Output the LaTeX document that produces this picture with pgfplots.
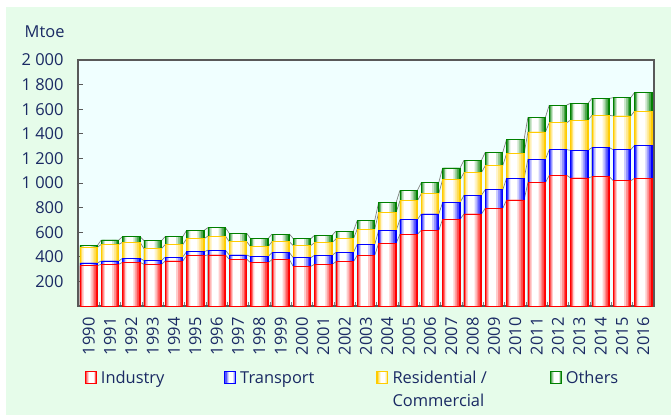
\documentclass[border=0pt]{standalone}
\usepackage{fontspec}
\setmainfont{Open Sans}
\usepackage{pgfplots}
\usepackage{pgfplotstable}
\pgfplotsset{compat=1.18}
\definecolor{bgG}{RGB}{230,252,234}
\definecolor{plotbg}{RGB}{240,255,255}
\definecolor{navy}{RGB}{26,42,100}
\definecolor{cR}{RGB}{255,0,0}
\definecolor{cB}{RGB}{0,0,255}
\definecolor{cY}{RGB}{255,204,0}
\definecolor{cG}{RGB}{0,128,0}

\pgfplotstableread{
year ind tra res oth
1990 328 22 127 15
1991 339 27 135 36
1992 355 33 130 46
1993 339 30 97 65
1994 366 32 101 65
1995 409 33 105 68
1996 415 38 116 68
1997 380 35 108 68
1998 352 49 81 65
1999 377 57 89 62
2000 322 71 98 56
2001 339 73 103 60
2002 360 75 111 62
2003 412 89 125 70
2004 509 103 147 81
2005 583 119 154 84
2006 615 133 165 90
2007 705 135 187 95
2008 748 152 184 100
2009 794 152 195 108
2010 862 176 200 117
2011 1003 190 222 119
2012 1062 209 219 144
2013 1041 225 246 136
2014 1051 236 263 138
2015 1019 252 274 149
2016 1038 268 279 152
}\data
\pgfplotstablecreatecol[create col/expr={\thisrow{ind}}]{c1}\data
\pgfplotstablecreatecol[create col/expr={\thisrow{c1}+\thisrow{tra}}]{c2}\data
\pgfplotstablecreatecol[create col/expr={\thisrow{c2}+\thisrow{res}}]{c3}\data
\pgfplotstablecreatecol[create col/expr={\thisrow{c3}+\thisrow{oth}}]{c4}\data
\pgfplotstablecreatecol[create col/expr={\nextrow{c1}-\thisrow{c1}}]{d1}\data
\pgfplotstablecreatecol[create col/expr={\nextrow{c2}-\thisrow{c2}}]{d2}\data
\pgfplotstablecreatecol[create col/expr={\nextrow{c3}-\thisrow{c3}}]{d3}\data
\pgfplotstablecreatecol[create col/expr={\nextrow{c4}-\thisrow{c4}}]{d4}\data

% one stacked segment, drawn from 0 to its cumulative top, in layers that fade to white
\newcommand{\layered}[2]{%
\addplot[forget plot, ybar, bar shift=0, bar width=0.82, fill=#1, draw=none] table[x expr=\coordindex, y=#2] {\data};
\addplot[forget plot, ybar, bar shift=-0.01, bar width=0.72, fill=#1!70!white, draw=none] table[x expr=\coordindex, y=#2] {\data};
\addplot[forget plot, ybar, bar shift=-0.03, bar width=0.60, fill=#1!45!white, draw=none] table[x expr=\coordindex, y=#2] {\data};
\addplot[forget plot, ybar, bar shift=-0.05, bar width=0.48, fill=#1!20!white, draw=none] table[x expr=\coordindex, y=#2] {\data};
\addplot[forget plot, ybar, bar shift=-0.07, bar width=0.32, fill=white, draw=none] table[x expr=\coordindex, y=#2] {\data};
\addplot[forget plot, ybar, bar shift=0, bar width=0.82, fill=none, draw=#1, line width=0.8bp] table[x expr=\coordindex, y=#2] {\data};
}
\newcommand{\serieslines}[2]{%
\addplot[forget plot, draw=gray, line width=0.7bp, quiver={u=0.18, v=\thisrow{#2}}] table[x expr=\coordindex+0.41, y=#1, skip coords between index={26}{27}] {\data};
}

\begin{document}
\begin{tikzpicture}
\useasboundingbox (-78bp,-109bp) rectangle (593bp,306bp);
\fill[white] (-78bp,-109bp) rectangle (593bp,306bp);
\fill[bgG] (-72bp,-109bp) rectangle (593bp,299bp);
\begin{axis}[
  at={(0,0)}, anchor=south west,
  scale only axis, width=576bp, height=246bp,
  xmin=-0.5, xmax=26.5, ymin=0, ymax=2000,
  clip=false,
  axis background/.style={fill=plotbg},
  axis line style={draw=gray!70!black, line width=1.2bp},
  xtick={0,...,26},
  xticklabels={1990,1991,1992,1993,1994,1995,1996,1997,1998,1999,2000,2001,2002,2003,2004,2005,2006,2007,2008,2009,2010,2011,2012,2013,2014,2015,2016},
  x tick style={draw=none},
  minor xtick={-0.5,0.5,...,26.5},
  minor x tick style={draw=gray, line width=0.8bp},
  minor tick length=4bp,
  xtick pos=bottom, ytick pos=left,
  ytick={200,400,...,2000},
  y tick style={draw=gray!70!black, line width=0.8bp},
  major tick length=5bp,
  tick align=inside,
  /pgf/number format/assume math mode=true,
  /pgf/number format/1000 sep={\ },
  yticklabel style={font=\fontsize{16.5}{19}\selectfont, text=navy, xshift=-11bp},
  xticklabel style={font=\fontsize{16.5}{19}\selectfont, text=navy, rotate=90, anchor=east, xshift=-8bp},
  legend columns=4,
  legend style={draw=none, fill=none, inner sep=0pt, outer sep=0pt,
    at={(rel axis cs:0.0115,-0.263)}, anchor=north west,
    font=\fontsize{16.5}{23.4}\selectfont, text=navy,
    nodes={inner sep=0pt},
    cells={anchor=base west},
    /tikz/every odd column/.append style={column sep=4.5bp},
    /tikz/every even column/.append style={column sep=0bp}},
  legend image code/.code={%
    \begin{scope}[#1]
    \fill (0bp,0bp) rectangle (11bp,12bp);
    \fill[.!65!white] (1.2bp,0bp) rectangle (10.4bp,12bp);
    \fill[.!38!white] (2.4bp,0bp) rectangle (9.6bp,12bp);
    \fill[.!16!white] (3.4bp,0bp) rectangle (8.8bp,12bp);
    \fill[white] (4.4bp,0bp) rectangle (7.8bp,12bp);
    \draw[line width=0.8bp] (0bp,0bp) rectangle (11bp,12bp);
    \end{scope}},
]
\serieslines{c1}{d1}
\serieslines{c2}{d2}
\serieslines{c3}{d3}
\serieslines{c4}{d4}
\layered{cG}{c4}
\layered{cY}{c3}
\layered{cB}{c2}
\layered{cR}{c1}
\addlegendimage{color=cR}
\addlegendentry{\makebox[123bp][l]{Industry}}
\addlegendimage{color=cB}
\addlegendentry{\makebox[136bp][l]{Transport}}
\addlegendimage{color=cY}
\addlegendentry{\parbox[t]{157bp}{Residential /\\Commercial}}
\addlegendimage{color=cG}
\addlegendentry{Others}
\node[text=navy, font=\fontsize{16.5}{19}\selectfont] at (rel axis cs:-0.058,1.114) {Mtoe};
\end{axis}
\end{tikzpicture}
\end{document}
